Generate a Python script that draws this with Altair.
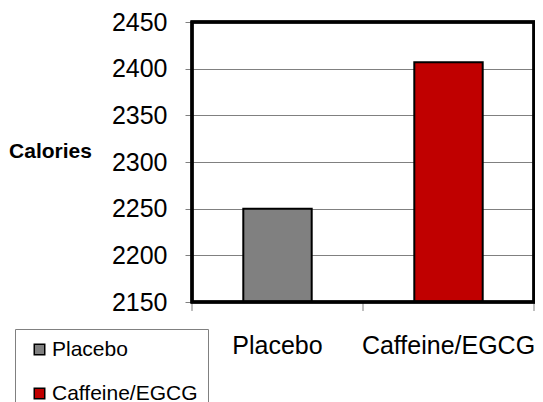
import altair as alt
import pandas as pd

groups = ["Placebo", "Caffeine/EGCG"]
calories = [2250, 2407]
bar_colors = ["#808080", "#C00000"]
y_ticks = [2150, 2200, 2250, 2300, 2350, 2400, 2450]
y_domain = [2150, 2450]
boundaries = [0, 1, 2]

FONT = "Liberation Sans"
W, H = 342, 280

df = pd.DataFrame({"group": groups, "calories": calories})
bdf = pd.DataFrame({"b": boundaries})

bars = alt.Chart(df).mark_bar(stroke="black", strokeWidth=2).encode(
    x=alt.X("group:N", sort=groups,
            scale=alt.Scale(paddingInner=0.6, paddingOuter=0.3),
            axis=alt.Axis(title=None, labelAngle=0, ticks=False, tickSize=0,
                          domain=False, grid=False,
                          labelFontSize=25, labelFont=FONT, labelColor="black",
                          labelBaseline="alphabetic", labelPadding=51)),
    y=alt.Y("calories:Q",
            scale=alt.Scale(domain=y_domain, nice=False, zero=False),
            axis=alt.Axis(values=y_ticks, format="d", title="Calories", titleAngle=0,
                          titleFont=FONT, titleFontSize=21, titleFontWeight="bold",
                          titleColor="black", titleAlign="center",
                          titleBaseline="alphabetic", titleX=-142, titleY=135,
                          labelFont=FONT, labelFontSize=25, labelColor="black",
                          labelPadding=18, tickSize=7, tickColor="#808080",
                          domain=False, grid=True, gridColor="#808080",
                          gridWidth=1)),
    y2=alt.datum(y_domain[0]),
    color=alt.Color("group:N", sort=groups,
                    scale=alt.Scale(domain=groups, range=bar_colors),
                    legend=alt.Legend(title=None, orient="none",
                                      legendX=-177, legendY=307,
                                      strokeColor="#808080", fillColor="white",
                                      padding=10, symbolType="square",
                                      symbolSize=110, symbolStrokeColor="black",
                                      symbolStrokeWidth=1.5, symbolOffset=4,
                                      labelFont=FONT, labelFontSize=21,
                                      labelColor="black", labelOffset=2,
                                      rowPadding=22)),
)

ticks = alt.Chart(bdf).mark_rule(color="#808080", strokeWidth=1).encode(
    x=alt.X("b:Q", scale=alt.Scale(domain=[0, 2], nice=False, zero=False), axis=None),
    y=alt.value(H),
    y2=alt.value(H + 9),
)

frame = alt.Chart(bdf).mark_rect(fill=None, stroke="black", strokeWidth=3).encode(
    x=alt.value(0), x2=alt.value(W), y=alt.value(0), y2=alt.value(H),
)

chart = alt.layer(bars, ticks, frame).resolve_scale(x="independent").properties(
    width=W, height=H,
    autosize=alt.AutoSizeParams(type="none"),
    padding={"left": 184, "top": 14, "right": 1, "bottom": 100},
).configure_view(stroke=None)

chart.save("out.html", embed_options={"renderer": "svg", "actions": False})
